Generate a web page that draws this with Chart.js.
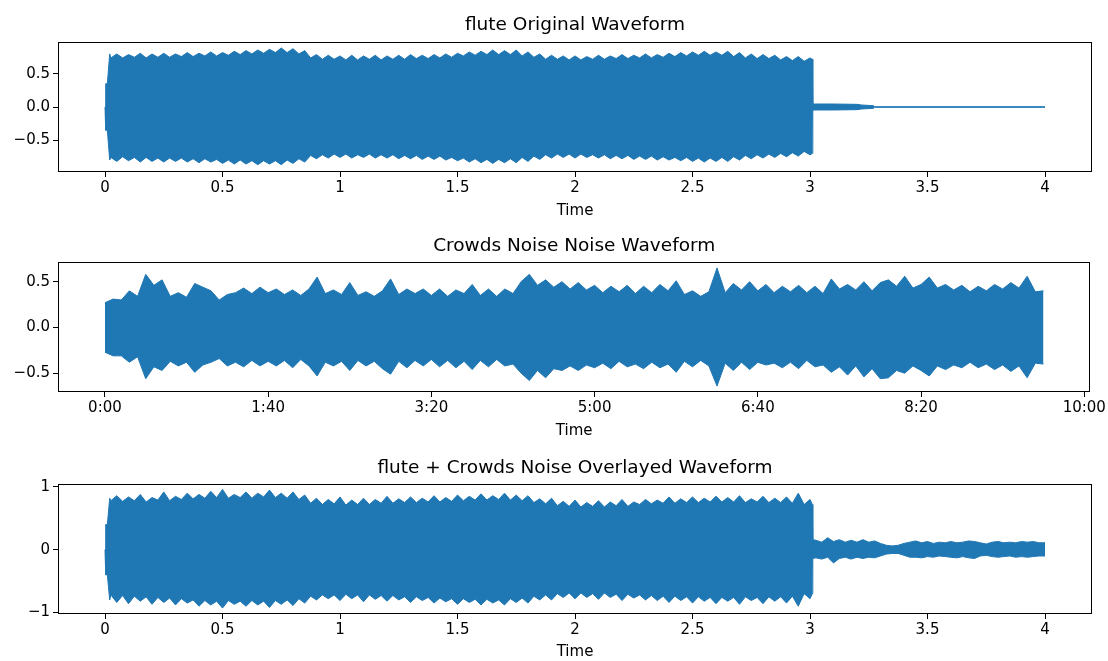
<!DOCTYPE html>
<html>
<head>
<meta charset="utf-8">
<title>Waveforms</title>
<script src="https://cdn.jsdelivr.net/npm/chart.js@4.4.1/dist/chart.umd.min.js"></script>
<style>
  html, body { margin: 0; padding: 0; background: #fff; }
  #wrap { position: relative; width: 1108px; height: 661px; }
  #wrap canvas { position: absolute; left: 0; }
</style>
</head>
<body>
<div id="wrap">
  <canvas id="fluteChart" width="1108" height="220" style="top:0px"></canvas>
  <canvas id="noiseChart" width="1108" height="220" style="top:220px"></canvas>
  <canvas id="mixChart" width="1108" height="221" style="top:440px"></canvas>
</div>
<script>
// ---- data (envelopes) ----

// flute clip, seconds. body samples every 25 ms from 0.025 to 3.000 s,
// alternating trough / crest of the ripple on the edge
const onsetTime = [0, 0.003, 0.01, 0.02];
const bodyStep = 0.025;
const cutTime = [3.01, 3.012];

const fluteOnsetUpper = [0, 0.35, 0.35, 0.80];
const fluteOnsetLower = [0, -0.35, -0.35, -0.80];
const fluteBodyUpper = [
  0.74, 0.80, 0.74, 0.79, 0.75, 0.81, 0.74, 0.80, 0.75, 0.81,
  0.75, 0.80, 0.76, 0.82, 0.76, 0.81, 0.77, 0.83, 0.77, 0.82,
  0.78, 0.84, 0.79, 0.85, 0.80, 0.86, 0.81, 0.87, 0.82, 0.89,
  0.82, 0.88, 0.80, 0.85, 0.74, 0.79, 0.72, 0.78, 0.72, 0.77,
  0.71, 0.78, 0.71, 0.77, 0.72, 0.78, 0.71, 0.77, 0.72, 0.78,
  0.72, 0.79, 0.73, 0.78, 0.73, 0.79, 0.74, 0.80, 0.75, 0.81,
  0.77, 0.83, 0.78, 0.84, 0.79, 0.86, 0.79, 0.85, 0.79, 0.86,
  0.77, 0.83, 0.75, 0.80, 0.72, 0.78, 0.72, 0.77, 0.71, 0.77,
  0.71, 0.76, 0.72, 0.78, 0.72, 0.77, 0.73, 0.79, 0.73, 0.78,
  0.74, 0.80, 0.74, 0.79, 0.75, 0.81, 0.76, 0.82, 0.77, 0.83,
  0.78, 0.84, 0.78, 0.83, 0.78, 0.84, 0.76, 0.82, 0.74, 0.80,
  0.73, 0.79, 0.73, 0.78, 0.71, 0.76, 0.70, 0.76, 0.69, 0.74
];
const fluteBodyLower = [
  -0.76, -0.82, -0.75, -0.81, -0.76, -0.83, -0.76, -0.82, -0.77, -0.83,
  -0.77, -0.82, -0.77, -0.83, -0.78, -0.84, -0.78, -0.83, -0.79, -0.85,
  -0.80, -0.86, -0.80, -0.86, -0.81, -0.87, -0.81, -0.86, -0.81, -0.87,
  -0.80, -0.85, -0.78, -0.83, -0.73, -0.78, -0.72, -0.77, -0.71, -0.76,
  -0.71, -0.77, -0.72, -0.76, -0.71, -0.77, -0.72, -0.77, -0.72, -0.78,
  -0.73, -0.78, -0.73, -0.79, -0.74, -0.79, -0.74, -0.80, -0.76, -0.81,
  -0.77, -0.83, -0.78, -0.84, -0.79, -0.85, -0.79, -0.84, -0.78, -0.84,
  -0.76, -0.82, -0.74, -0.79, -0.72, -0.77, -0.71, -0.76, -0.71, -0.77,
  -0.71, -0.76, -0.72, -0.77, -0.72, -0.78, -0.73, -0.78, -0.73, -0.79,
  -0.74, -0.79, -0.74, -0.80, -0.75, -0.80, -0.76, -0.81, -0.76, -0.82,
  -0.77, -0.83, -0.77, -0.82, -0.76, -0.82, -0.75, -0.80, -0.73, -0.78,
  -0.72, -0.77, -0.71, -0.76, -0.70, -0.75, -0.69, -0.74, -0.67, -0.72
];
const fluteCutUpper = [0.72, 0.05];
const fluteCutLower = [-0.70, -0.05];
const fluteTailTime  = [3.02, 3.10, 3.20, 3.22, 3.27, 3.275, 4.00];
const fluteTailUpper = [0.045, 0.045, 0.04, 0.03, 0.02, 0.004, 0.004];
const fluteTailLower = [-0.045, -0.045, -0.04, -0.03, -0.02, -0.004, -0.004];

// crowd noise clip: one value every 5 s, 0 .. 575 s
const noiseStepSec = 5;
const noiseUpper = [
  0.27, 0.31, 0.30, 0.40, 0.34, 0.58, 0.46, 0.52, 0.34, 0.38,
  0.33, 0.48, 0.44, 0.40, 0.30, 0.36, 0.38, 0.43, 0.37, 0.44,
  0.38, 0.42, 0.36, 0.41, 0.35, 0.42, 0.55, 0.37, 0.41, 0.36,
  0.49, 0.35, 0.39, 0.34, 0.40, 0.53, 0.36, 0.42, 0.37, 0.42,
  0.35, 0.42, 0.34, 0.41, 0.37, 0.47, 0.35, 0.42, 0.34, 0.42,
  0.37, 0.50, 0.58, 0.46, 0.52, 0.44, 0.50, 0.42, 0.49, 0.41,
  0.46, 0.38, 0.45, 0.39, 0.46, 0.37, 0.45, 0.38, 0.47, 0.40,
  0.51, 0.36, 0.40, 0.34, 0.39, 0.65, 0.38, 0.48, 0.41, 0.50,
  0.40, 0.47, 0.38, 0.45, 0.39, 0.46, 0.38, 0.45, 0.37, 0.53,
  0.42, 0.47, 0.41, 0.50, 0.40, 0.49, 0.52, 0.45, 0.56, 0.43,
  0.47, 0.55, 0.43, 0.47, 0.41, 0.46, 0.39, 0.45, 0.40, 0.47,
  0.42, 0.49, 0.43, 0.56, 0.39, 0.40
];
const noiseLower = [
  -0.27, -0.31, -0.31, -0.38, -0.32, -0.56, -0.43, -0.47, -0.37, -0.42,
  -0.38, -0.49, -0.41, -0.38, -0.34, -0.42, -0.38, -0.43, -0.36, -0.42,
  -0.37, -0.42, -0.36, -0.44, -0.35, -0.42, -0.53, -0.38, -0.42, -0.37,
  -0.47, -0.36, -0.42, -0.37, -0.45, -0.51, -0.37, -0.44, -0.36, -0.42,
  -0.35, -0.43, -0.36, -0.44, -0.37, -0.46, -0.36, -0.43, -0.35, -0.42,
  -0.40, -0.50, -0.58, -0.47, -0.55, -0.45, -0.47, -0.42, -0.47, -0.41,
  -0.44, -0.39, -0.45, -0.37, -0.43, -0.40, -0.45, -0.38, -0.44, -0.40,
  -0.49, -0.37, -0.43, -0.36, -0.42, -0.64, -0.39, -0.47, -0.38, -0.46,
  -0.38, -0.41, -0.39, -0.44, -0.38, -0.45, -0.36, -0.43, -0.41, -0.49,
  -0.43, -0.52, -0.42, -0.54, -0.45, -0.56, -0.55, -0.47, -0.50, -0.42,
  -0.47, -0.53, -0.42, -0.46, -0.41, -0.44, -0.38, -0.44, -0.40, -0.46,
  -0.41, -0.48, -0.42, -0.55, -0.39, -0.40
];

// flute + noise mix
const mixOnsetUpper = [0, 0.40, 0.40, 0.82];
const mixOnsetLower = [0, -0.40, -0.40, -0.80];
const mixBodyUpper = [
  0.78, 0.86, 0.77, 0.84, 0.78, 0.88, 0.76, 0.83, 0.79, 0.92,
  0.78, 0.85, 0.80, 0.90, 0.81, 0.88, 0.82, 0.93, 0.83, 0.96,
  0.82, 0.88, 0.83, 0.92, 0.82, 0.90, 0.84, 0.95, 0.83, 0.90,
  0.82, 0.92, 0.80, 0.87, 0.74, 0.82, 0.72, 0.80, 0.73, 0.84,
  0.71, 0.79, 0.72, 0.82, 0.72, 0.80, 0.74, 0.85, 0.74, 0.81,
  0.75, 0.84, 0.75, 0.82, 0.76, 0.86, 0.76, 0.83, 0.77, 0.87,
  0.78, 0.85, 0.79, 0.89, 0.79, 0.86, 0.80, 0.90, 0.79, 0.87,
  0.78, 0.86, 0.75, 0.81, 0.73, 0.82, 0.70, 0.77, 0.69, 0.79,
  0.68, 0.75, 0.69, 0.78, 0.68, 0.76, 0.70, 0.80, 0.69, 0.76,
  0.72, 0.80, 0.73, 0.79, 0.74, 0.84, 0.74, 0.81, 0.75, 0.84,
  0.75, 0.82, 0.76, 0.85, 0.76, 0.83, 0.76, 0.86, 0.75, 0.81,
  0.76, 0.85, 0.75, 0.82, 0.75, 0.84, 0.74, 0.90, 0.72, 0.80
];
const mixBodyLower = [
  -0.72, -0.84, -0.73, -0.86, -0.74, -0.82, -0.75, -0.87, -0.76, -0.84,
  -0.77, -0.88, -0.78, -0.85, -0.80, -0.90, -0.81, -0.88, -0.82, -0.93,
  -0.81, -0.87, -0.82, -0.90, -0.81, -0.88, -0.82, -0.92, -0.81, -0.87,
  -0.80, -0.89, -0.78, -0.85, -0.74, -0.80, -0.72, -0.78, -0.72, -0.81,
  -0.71, -0.78, -0.72, -0.83, -0.72, -0.79, -0.73, -0.82, -0.73, -0.80,
  -0.75, -0.84, -0.75, -0.81, -0.76, -0.85, -0.77, -0.83, -0.78, -0.87,
  -0.78, -0.84, -0.79, -0.88, -0.79, -0.85, -0.80, -0.88, -0.78, -0.84,
  -0.77, -0.85, -0.74, -0.80, -0.72, -0.80, -0.70, -0.76, -0.69, -0.78,
  -0.69, -0.76, -0.70, -0.79, -0.69, -0.76, -0.71, -0.81, -0.71, -0.77,
  -0.72, -0.80, -0.73, -0.81, -0.74, -0.84, -0.74, -0.81, -0.75, -0.85,
  -0.75, -0.82, -0.76, -0.86, -0.76, -0.82, -0.76, -0.87, -0.75, -0.81,
  -0.76, -0.86, -0.75, -0.82, -0.75, -0.85, -0.74, -0.90, -0.70, -0.78
];
const mixCutUpper = [0.72, 0.16];
const mixCutLower = [-0.70, -0.14];
// mix tail samples every 25 ms from 3.025 to 4.000 s
const mixTailStart = 3.025;
const mixTailUpper = [
  0.15, 0.12, 0.19, 0.13, 0.16, 0.12, 0.15, 0.12, 0.16, 0.12,
  0.14, 0.10, 0.07, 0.06, 0.07, 0.10, 0.12, 0.14, 0.11, 0.13,
  0.10, 0.12, 0.11, 0.13, 0.11, 0.12, 0.14, 0.13, 0.11, 0.09,
  0.12, 0.13, 0.11, 0.12, 0.11, 0.13, 0.12, 0.13, 0.11, 0.11
];
const mixTailLower = [
  -0.13, -0.15, -0.12, -0.21, -0.14, -0.12, -0.15, -0.12, -0.14, -0.12,
  -0.13, -0.10, -0.07, -0.06, -0.06, -0.09, -0.12, -0.12, -0.13, -0.11,
  -0.12, -0.10, -0.11, -0.12, -0.13, -0.11, -0.13, -0.14, -0.10, -0.09,
  -0.11, -0.12, -0.11, -0.10, -0.12, -0.11, -0.12, -0.11, -0.10, -0.10
];

// ticks
const secTicks = [0, 0.5, 1, 1.5, 2, 2.5, 3, 3.5, 4];
const secLabels = ['0', '0.5', '1', '1.5', '2', '2.5', '3', '3.5', '4'];
const clockTicks = [0, 100, 200, 300, 400, 500, 600];
const clockLabels = ['0:00', '1:40', '3:20', '5:00', '6:40', '8:20', '10:00'];
const halfTicks = [-0.5, 0, 0.5];
const halfLabels = ['−0.5', '0.0', '0.5'];
const unitTicks = [-1, 0, 1];
const unitLabels = ['−1', '0', '1'];

// ---- drawing ----
const BLUE = '#1f77b4';
Chart.defaults.font.family = "'DejaVu Sans', sans-serif";
Chart.defaults.font.size = 15;
Chart.defaults.color = '#000';

const bodyTime = fluteBodyUpper.map((_, i) => +((i + 1) * bodyStep).toFixed(3));
const mixTailTime = mixTailUpper.map((_, i) => +(mixTailStart + i * bodyStep).toFixed(3));

// matplotlib-style box around the axes
const frame = {
  id: 'frame',
  afterDraw(chart) {
    const {ctx, chartArea: a} = chart;
    ctx.save();
    ctx.strokeStyle = '#000';
    ctx.lineWidth = 1;
    ctx.strokeRect(Math.round(a.left) + 0.5, Math.round(a.top) + 0.5,
                   Math.round(a.right - a.left) - 1, Math.round(a.bottom - a.top) - 1);
    ctx.restore();
  }
};

function wave(id, o) {
  const up = o.time.map((t, i) => ({x: t, y: o.upper[i]}));
  const lo = o.time.map((t, i) => ({x: t, y: o.lower[i]}));
  return new Chart(document.getElementById(id), {
    type: 'line',
    data: {
      datasets: [
        {data: up, borderColor: BLUE, backgroundColor: BLUE, borderWidth: 1, pointRadius: 0, tension: 0, fill: '+1'},
        {data: lo, borderColor: BLUE, backgroundColor: BLUE, borderWidth: 1, pointRadius: 0, tension: 0, fill: false}
      ]
    },
    options: {
      responsive: false,
      animation: false,
      layout: {padding: {left: 0, right: 16, top: 0, bottom: 0}},
      plugins: {
        legend: {display: false},
        tooltip: {enabled: false},
        title: {display: true, fullSize: false, text: o.title, color: '#000',
                font: {size: 18.5, weight: 'normal'}, padding: o.titlePad}
      },
      scales: {
        x: {
          type: 'linear', min: o.xMin, max: o.xMax,
          afterBuildTicks: s => { s.ticks = o.xTicks.map(v => ({value: v})); },
          afterFit: s => { s.height = o.xHeight; },
          ticks: {autoSkip: false, maxRotation: 0, padding: 2,
                  callback: v => o.xLabels[o.xTicks.indexOf(v)]},
          grid: {drawOnChartArea: false, tickLength: 5, color: '#000'},
          border: {display: false},
          title: {display: true, text: 'Time', padding: {top: 0, bottom: 0}}
        },
        y: {
          type: 'linear', min: o.yMin, max: o.yMax,
          afterBuildTicks: s => { s.ticks = o.yTicks.map(v => ({value: v})); },
          afterFit: s => { s.width = 58; },
          ticks: {padding: 3, callback: v => o.yLabels[o.yTicks.indexOf(v)]},
          grid: {drawOnChartArea: false, tickLength: 5, color: '#000'},
          border: {display: false}
        }
      }
    },
    plugins: [frame]
  });
}

wave('fluteChart', {
  title: 'flute Original Waveform',
  titlePad: {top: 14, bottom: 5.8},
  time: [...onsetTime, ...bodyTime, ...cutTime, ...fluteTailTime],
  upper: [...fluteOnsetUpper, ...fluteBodyUpper, ...fluteCutUpper, ...fluteTailUpper],
  lower: [...fluteOnsetLower, ...fluteBodyLower, ...fluteCutLower, ...fluteTailLower],
  xMin: -0.2, xMax: 4.2, xTicks: secTicks, xLabels: secLabels, xHeight: 48,
  yMin: -0.98, yMax: 0.98, yTicks: halfTicks, yLabels: halfLabels
});

wave('noiseChart', {
  title: 'Crowds Noise Noise Waveform',
  titlePad: {top: 15.5, bottom: 4.3},
  time: noiseUpper.map((_, i) => i * noiseStepSec),
  upper: noiseUpper,
  lower: noiseLower,
  xMin: -28.75, xMax: 603.75, xTicks: clockTicks, xLabels: clockLabels, xHeight: 48,
  yMin: -0.705, yMax: 0.715, yTicks: halfTicks, yLabels: halfLabels
});

wave('mixChart', {
  title: 'flute + Crowds Noise Overlayed Waveform',
  titlePad: {top: 17, bottom: 4.8},
  time: [...onsetTime, ...bodyTime, ...cutTime, ...mixTailTime],
  upper: [...mixOnsetUpper, ...mixBodyUpper, ...mixCutUpper, ...mixTailUpper],
  lower: [...mixOnsetLower, ...mixBodyLower, ...mixCutLower, ...mixTailLower],
  xMin: -0.2, xMax: 4.2, xTicks: secTicks, xLabels: secLabels, xHeight: 47,
  yMin: -1.024, yMax: 1.046, yTicks: unitTicks, yLabels: unitLabels
});
</script>
</body>
</html>
